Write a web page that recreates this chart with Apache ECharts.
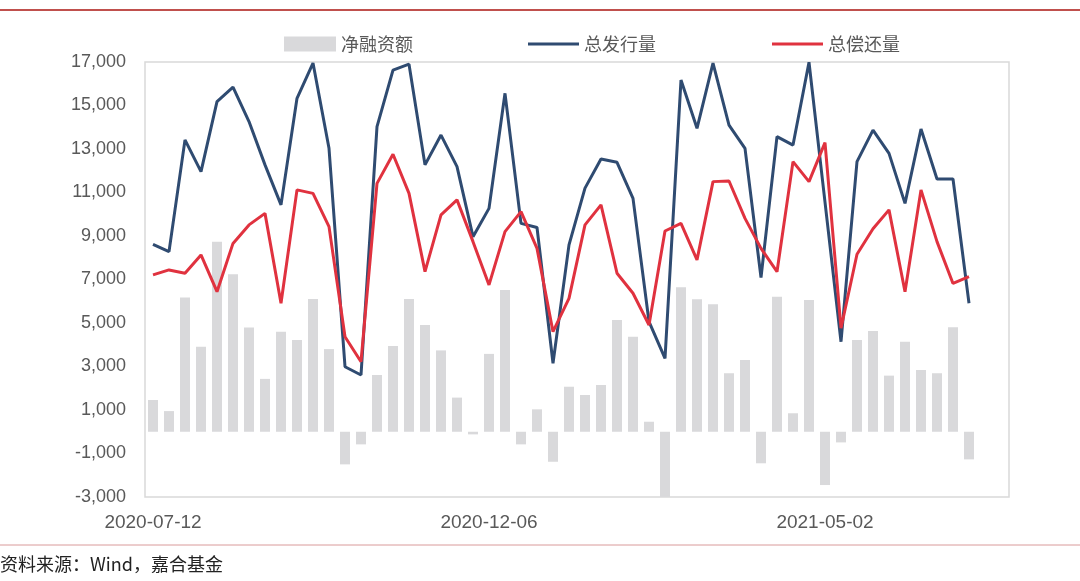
<!DOCTYPE html>
<html>
<head>
<meta charset="utf-8">
<script src="https://cdn.jsdelivr.net/npm/echarts@6/dist/echarts.min.js"></script>
<style>
html,body{margin:0;padding:0;background:#fff;}
#chart{width:1080px;height:581px;}
</style>
</head>
<body>
<div id="chart"></div>
<script>
const categories = [
  "2020-07-12","2020-07-19","2020-07-26","2020-08-02","2020-08-09","2020-08-16","2020-08-23","2020-08-30",
  "2020-09-06","2020-09-13","2020-09-20","2020-09-27","2020-10-04","2020-10-11","2020-10-18","2020-10-25",
  "2020-11-01","2020-11-08","2020-11-15","2020-11-22","2020-11-29","2020-12-06","2020-12-13","2020-12-20",
  "2020-12-27","2021-01-03","2021-01-10","2021-01-17","2021-01-24","2021-01-31","2021-02-07","2021-02-14",
  "2021-02-21","2021-02-28","2021-03-07","2021-03-14","2021-03-21","2021-03-28","2021-04-04","2021-04-11",
  "2021-04-18","2021-04-25","2021-05-02","2021-05-09","2021-05-16","2021-05-23","2021-05-30","2021-06-06",
  "2021-06-13","2021-06-20","2021-06-27","2021-07-04","2021-07-11","2021-07-18"
];
const netFinancing = [
  1460, 950, 6170, 3910, 8740, 7240, 4790, 2430, 4600, 4220, 6100, 3800, -1500, -580, 2610, 3940,
  6100, 4910, 3740, 1570, -120, 3580, 6520, -580, 1030, -1380, 2070, 1690, 2150, 5140, 4370, 460,
  -3000, 6640, 6090, 5860, 2690, 3300, -1450, 6210, 850, 6060, -2450, -490, 4220, 4630, 2580, 4140,
  2840, 2690, 4800, -1270, null, null
];
const totalIssuance = [
  8620, 8280, 13420, 11960, 15180, 15840, 14260, 12270, 10430, 15330, 16950, 13030, 2990, 2610, 14030, 16630,
  16900, 12270, 13640, 12190, 8970, 10270, 15560, 9580, 9390, 3150, 8590, 11200, 12540, 12390, 10730, 5060,
  3370, 16170, 13950, 16950, 14100, 13030, 7090, 13570, 13180, 16990, 10560, 4140, 12420, 13870, 12800, 10500,
  13920, 11620, 11620, 5910, null, null
];
const totalRepayment = [
  7210, 7440, 7290, 8130, 6440, 8660, 9510, 10040, 5910, 11120, 10960, 9430, 4370, 3220, 11420, 12760,
  10960, 7360, 9970, 10660, 8740, 6750, 9200, 10120, 8430, 4600, 6130, 9510, 10430, 7290, 6370, 4910,
  9230, 9580, 7900, 11500, 11530, 9810, 8430, 7360, 12420, 11500, 13290, 4760, 8160, 9330, 10200, 6440,
  11120, 8740, 6820, 7130, null, null
];
const seriesNames = ["净融资额", "总发行量", "总偿还量"];
const yMin = -3000, yMax = 17000, yStep = 2000;
const sourceText = "资料来源：Wind，嘉合基金";

const chart = echarts.init(document.getElementById('chart'), null, {renderer: 'canvas'});
const numFmt = v => {
  const s = Math.abs(v).toString().replace(/\B(?=(\d{3})+(?!\d))/g, ',');
  return (v < 0 ? '-' : '') + s;
};
const fontFam = 'Liberation Sans, Arial, sans-serif';
const legendText = { fontSize: 18, color: '#595959', fontFamily: 'Noto Sans CJK SC' };
chart.setOption({
  backgroundColor: '#ffffff',
  animation: false,
  grid: {
    left: 145, right: 71, top: 62, bottom: 84,
    show: true, borderColor: '#d9d9d9', borderWidth: 1.5, backgroundColor: 'transparent'
  },
  legend: [
    {
      top: 30, left: 279, itemWidth: 52, itemHeight: 15, itemGap: 10,
      textStyle: legendText,
      data: [{ name: seriesNames[0], icon: 'rect' }]
    },
    {
      top: 30, left: 523, itemWidth: 51, itemHeight: 3, itemGap: 116,
      textStyle: legendText,
      data: [{ name: seriesNames[1], icon: 'rect' }, { name: seriesNames[2], icon: 'rect' }]
    }
  ],
  xAxis: {
    type: 'category',
    data: categories,
    boundaryGap: true,
    axisLine: { show: false },
    axisTick: { show: false },
    axisLabel: {
      interval: 20, margin: 16, fontSize: 19, color: '#595959', fontFamily: fontFam
    }
  },
  yAxis: {
    type: 'value',
    min: yMin, max: yMax, interval: yStep,
    axisLine: { show: false },
    axisTick: { show: false },
    splitLine: { show: false },
    axisLabel: {
      fontSize: 18, color: '#595959', margin: 19, fontFamily: fontFam,
      formatter: numFmt
    }
  },
  series: [
    {
      name: seriesNames[0], type: 'bar', data: netFinancing, barWidth: 10,
      itemStyle: { color: '#d9d9db' }, z: 1
    },
    {
      name: seriesNames[1], type: 'line', data: totalIssuance, symbol: 'none',
      lineStyle: { color: '#2f4b71', width: 3 }, itemStyle: { color: '#2f4b71' }, z: 3
    },
    {
      name: seriesNames[2], type: 'line', data: totalRepayment, symbol: 'none',
      lineStyle: { color: '#e0323f', width: 3 }, itemStyle: { color: '#e0323f' }, z: 4
    }
  ],
  graphic: [
    { type: 'line', shape: { x1: 0, y1: 10, x2: 1080, y2: 10 }, style: { stroke: '#c0504d', lineWidth: 2 } },
    { type: 'line', shape: { x1: 0, y1: 545, x2: 1080, y2: 545 }, style: { stroke: '#d99a9a', lineWidth: 1 } },
    { type: 'text', left: 0, top: 555, style: { text: sourceText, fontSize: 18, fill: '#222222', fontFamily: 'Noto Sans CJK SC' } }
  ]
});
</script>
</body>
</html>
